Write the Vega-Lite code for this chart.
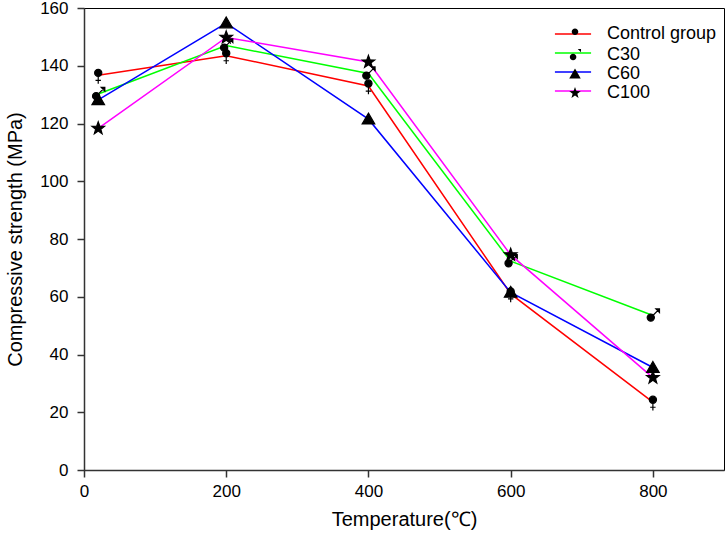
{
  "$schema": "https://vega.github.io/schema/vega-lite/v6.json",
  "width": 640,
  "height": 462,
  "autosize": {"type": "none"},
  "padding": {"left": 84, "top": 8, "right": 2, "bottom": 77},
  "background": "white",
  "config": {
    "font": "Liberation Sans",
    "view": {"stroke": "#000", "strokeWidth": 1},
    "axis": {
      "grid": false,
      "domainColor": "#333",
      "domainWidth": 1.5,
      "tickColor": "#333",
      "tickWidth": 1.5,
      "tickSize": 7,
      "labelColor": "#000",
      "labelFontSize": 17,
      "labelFont": "Liberation Sans",
      "titleFont": "Liberation Sans",
      "titleColor": "#000",
      "titleFontSize": 20,
      "titleFontWeight": "normal",
      "labelFlush": false
    },
    "legend": {"labelFont": "Liberation Sans", "labelFontSize": 18, "padding": 0, "rowPadding": 1}
  },
  "data": {
    "values": [
      {"group": "Control group", "temp": 20, "strength": 136.7},
      {"group": "Control group", "temp": 200, "strength": 143.5},
      {"group": "Control group", "temp": 400, "strength": 133},
      {"group": "Control group", "temp": 600, "strength": 61},
      {"group": "Control group", "temp": 800, "strength": 23.5},
      {"group": "C30", "temp": 20, "strength": 130.2},
      {"group": "C30", "temp": 200, "strength": 147},
      {"group": "C30", "temp": 400, "strength": 137.3},
      {"group": "C30", "temp": 600, "strength": 72.3},
      {"group": "C30", "temp": 800, "strength": 53.5},
      {"group": "C60", "temp": 20, "strength": 128.2},
      {"group": "C60", "temp": 200, "strength": 154.8},
      {"group": "C60", "temp": 400, "strength": 121.5},
      {"group": "C60", "temp": 600, "strength": 61.5},
      {"group": "C60", "temp": 800, "strength": 35.5},
      {"group": "C100", "temp": 20, "strength": 118.3},
      {"group": "C100", "temp": 200, "strength": 149.8},
      {"group": "C100", "temp": 400, "strength": 141.3},
      {"group": "C100", "temp": 600, "strength": 74.5},
      {"group": "C100", "temp": 800, "strength": 32}
    ]
  },
  "encoding": {
    "x": {
      "field": "temp",
      "type": "quantitative",
      "scale": {"domain": [0, 900], "nice": false, "zero": false},
      "axis": {"values": [0, 200, 400, 600, 800], "title": "Temperature(℃)", "labelPadding": 6, "titlePadding": 10}
    },
    "y": {
      "field": "strength",
      "type": "quantitative",
      "scale": {"domain": [0, 160], "nice": false},
      "axis": {"values": [0, 20, 40, 60, 80, 100, 120, 140, 160], "title": "Compressive strength (MPa)", "labelPadding": 9, "titlePadding": 14}
    }
  },
  "layer": [
    {
      "mark": {"type": "line", "strokeWidth": 1.5},
      "encoding": {
        "color": {
          "field": "group",
          "type": "nominal",
          "scale": {"domain": ["Control group", "C30", "C60", "C100"], "range": ["#ff0000", "#00ff00", "#0000ff", "#ff00ff"]},
          "legend": {
            "title": null,
            "orient": "top-right",
            "offset": 17,
            "symbolType": "M-3.3,0H3.3",
            "symbolSize": 120,
            "symbolStrokeWidth": 1.5,
            "labelExpr": "' '",
            "labelOffset": 125
          }
        }
      }
    },
    {
      "mark": {"type": "point", "filled": true, "color": "#000", "stroke": "#000", "strokeWidth": 1.2, "size": 144, "opacity": 1},
      "encoding": {
        "shape": {
          "field": "group",
          "type": "nominal",
          "scale": {
            "domain": ["Control group", "C30", "C60", "C100"],
            "range": [
              "M-0.6,-0.4A0.6,0.6 0 1,0 0.6,-0.4A0.6,0.6 0 1,0 -0.6,-0.4Z M0,0.2V1.4 M-0.45,0.85H0.45",
              "M-0.95,0.35A0.6,0.6 0 1,0 0.25,0.35A0.6,0.6 0 1,0 -0.95,0.35Z M0.08,-0.08L1.1,-1.1 M0.5,-1.1H1.1V-0.5Z",
              "M0,-1L1.05,0.8L-1.05,0.8Z",
              "M0,-1.1L0.2645,-0.364L1.046,-0.34L0.428,0.139L0.6466,0.89L0,0.45L-0.6466,0.89L-0.428,0.139L-1.046,-0.34L-0.2645,-0.364Z"
            ]
          },
          "legend": {
            "title": null,
            "orient": "none",
            "legendX": 482,
            "legendY": 17,
            "symbolSize": 120,
            "symbolFillColor": "#000",
            "symbolStrokeColor": "#000",
            "symbolStrokeWidth": 1.2,
            "labelOffset": 23
          }
        }
      }
    }
  ]
}
